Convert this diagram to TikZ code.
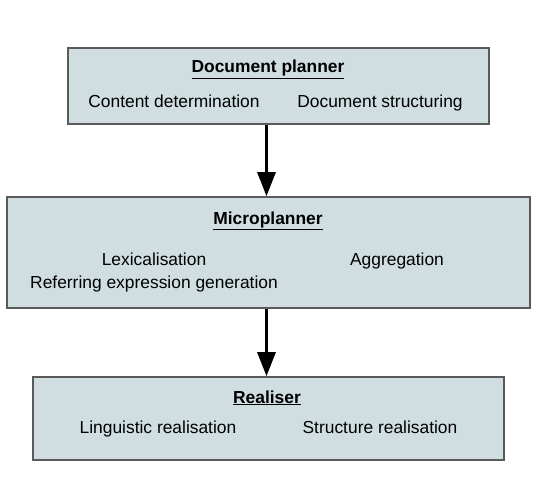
\documentclass[tikz,border=0pt]{standalone}
\usepackage{fontspec}
\setmainfont{Liberation Sans}
\usetikzlibrary{arrows.meta,calc}
\definecolor{boxfill}{RGB}{208,222,226}
\definecolor{boxline}{RGB}{90,90,90}
\newcommand{\stagetitle}[1]{\underline{\textbf{#1}}}
\tikzset{
  stage/.style={draw=boxline, line width=1.6pt, fill=boxfill, inner sep=0pt},
  label/.style={anchor=base, inner sep=0pt, font=\fontsize{17.4}{21}\selectfont},
  flow/.style={line width=3pt, -{Triangle[width=18pt,length=24pt]}}
}

\begin{document}
\begin{tikzpicture}[x=1pt,y=-1pt]
    \useasboundingbox (0,0) rectangle (541,503);

    % stages
    \node[stage, minimum width=421pt, minimum height=76pt] (docplan) at (278.5,86) {};
    \node[stage, minimum width=523pt, minimum height=111pt] (micro) at (268.5,252.5) {};
    \node[stage, minimum width=471pt, minimum height=83pt] (real) at (268.5,418.5) {};

    % document planner
    \node[label] (docplanT) at (268,73) {\stagetitle{Document planner}};
    \node[label] (content) at (174,107) {Content determination};
    \node[label] (structuring) at (380,107) {Document structuring};

    % microplanner
    \node[label] (microT) at (268,224) {\stagetitle{Microplanner}};
    \node[label] (lex) at (154,265) {Lexicalisation};
    \node[label] (reg) at (154,288) {Referring expression generation};
    \node[label] (aggr) at (397,265) {Aggregation};

    % realiser
    \node[label] (realT) at (267,403) {\stagetitle{Realiser}};
    \node[label] (ling) at (158,433) {Linguistic realisation};
    \node[label] (struct) at (380,433) {Structure realisation};

    \draw[flow] ([xshift=-2pt]docplan.south -| micro.north) -- ([xshift=-2pt]micro.north);
    \draw[flow] ([xshift=-2pt]micro.south) -- ([xshift=-2pt]real.north);
\end{tikzpicture}
\end{document}
